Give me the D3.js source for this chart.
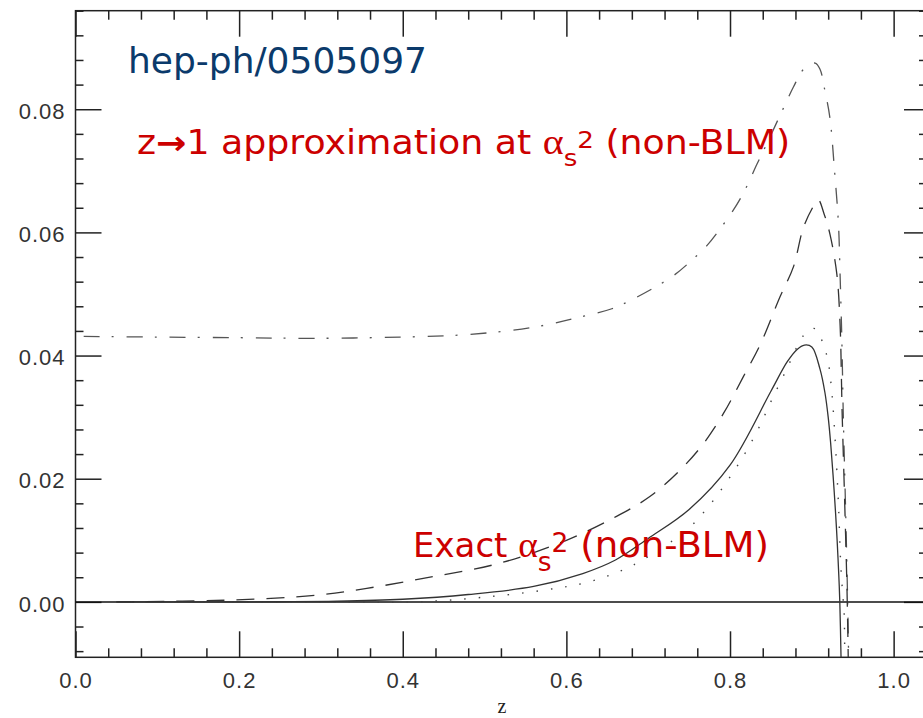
<!DOCTYPE html>
<html>
<head>
<meta charset="utf-8">
<script src="https://cdn.jsdelivr.net/npm/d3@7"></script>
<style>
  html, body { margin: 0; padding: 0; background: #fff; }
  svg { display: block; }
</style>
</head>
<body>
<div id="chart"></div>
<script>
// tick labels
const xMajor = [0.0, 0.2, 0.4, 0.6, 0.8, 1.0]
const yMajor = [0.00, 0.02, 0.04, 0.06, 0.08]

// exact alpha_s^2, solid
const exactZ = [0.05, 0.15, 0.25, 0.32, 0.40, 0.48, 0.56, 0.62, 0.66, 0.70, 0.75, 0.80, 0.85, 0.87, 0.882, 0.891, 0.900, 0.910, 0.916, 0.920, 0.923, 0.926, 0.929, 0.931, 0.933, 0.9342, 0.9357]
const exactV = [0, 0, 0.00002, 0.0001, 0.00043, 0.0012, 0.0025, 0.0046, 0.0068, 0.0103, 0.0150, 0.0222, 0.0342, 0.0390, 0.0410, 0.0417, 0.0414, 0.0378, 0.0340, 0.0300, 0.0258, 0.0205, 0.0145, 0.0098, 0.0042, 0.0, -0.009]

// dotted
const dotZ = [0.05, 0.30, 0.417, 0.4945, 0.572, 0.629, 0.682, 0.747, 0.772, 0.796, 0.816, 0.835, 0.851, 0.87, 0.885, 0.896, 0.905, 0.915, 0.920, 0.9245, 0.9285, 0.9325, 0.9355, 0.938, 0.9395, 0.9402]
const dotV = [0, 0, 0.0000, 0.0007, 0.0019, 0.0033, 0.0060, 0.0117, 0.0152, 0.0195, 0.0236, 0.0282, 0.0328, 0.0380, 0.0422, 0.0442, 0.0443, 0.0414, 0.0390, 0.0339, 0.0263, 0.0160, 0.0057, 0.0008, -0.0018, -0.009]

// dashed
const dashZ = [0.05, 0.19, 0.295, 0.356, 0.437, 0.519, 0.600, 0.660, 0.702, 0.739, 0.7675, 0.792, 0.816, 0.837, 0.861, 0.8775, 0.890, 0.904, 0.908, 0.915, 0.922, 0.9305, 0.9345, 0.937, 0.940, 0.943, 0.9445]
const dashV = [0, 0.0003, 0.0011, 0.0022, 0.0041, 0.0063, 0.0100, 0.0138, 0.0171, 0.0214, 0.0257, 0.0306, 0.0365, 0.0418, 0.0495, 0.0544, 0.0609, 0.0647, 0.0653, 0.0630, 0.0598, 0.0533, 0.0452, 0.031, 0.017, 0.002, -0.009]

// z->1 approximation, dash-dot
const approxZ = [0.01, 0.10, 0.20, 0.291, 0.397, 0.478, 0.560, 0.621, 0.6555, 0.682, 0.729, 0.751, 0.772, 0.788, 0.804, 0.818, 0.833, 0.845, 0.865, 0.8775, 0.890, 0.904, 0.910, 0.916, 0.922, 0.928, 0.9325, 0.9345, 0.9367, 0.9385, 0.941, 0.9435, 0.945]
const approxV = [0.0431, 0.0430, 0.0429, 0.0428, 0.0430, 0.0434, 0.0446, 0.0464, 0.0476, 0.0492, 0.0528, 0.0552, 0.0579, 0.0606, 0.0636, 0.0668, 0.0711, 0.0744, 0.0801, 0.0836, 0.0865, 0.0875, 0.0865, 0.0830, 0.0787, 0.0696, 0.0615, 0.0533, 0.0425, 0.030, 0.0165, 0.002, -0.009]

const W = 923
const H = 718
const mLeft = 75.5, mRight = 928, mTop = 10.7, mBottom = 657.3

let x = d3.scaleLinear().domain([0, 1.042]).range([mLeft, mRight])
let y = d3.scaleLinear().domain([-0.009, 0.096]).range([mBottom, mTop])

let svg = d3.select('#chart')
  .append('svg')
  .attr('width', W)
  .attr('height', H)

svg.append('rect').attr('width', W).attr('height', H).attr('fill', '#fff')

let xMinor = d3.range(0, 1.06, 0.04).filter(d => !xMajor.some(m => Math.abs(m - d) < 1e-6))
let yMinor = d3.range(-0.008, 0.0961, 0.004).filter(d => !yMajor.some(m => Math.abs(m - d) < 1e-6))

const tickFont = '"Liberation Sans", Arial, sans-serif'

function styleAxis (g) {
  g.select('.domain').remove()
  g.selectAll('line').attr('stroke', '#222').attr('stroke-width', 1.5)
  g.selectAll('text')
    .attr('fill', '#333')
    .style('font-family', tickFont)
    .style('font-size', '22px')
    .style('letter-spacing', '1px')
}

// bottom
svg.append('g').attr('transform', `translate(0,${mBottom})`)
  .call(d3.axisBottom(x).tickValues(xMajor).tickSize(-26).tickPadding(15).tickFormat(d3.format('.1f')))
  .call(styleAxis)
svg.append('g').attr('transform', `translate(0,${mBottom})`)
  .call(d3.axisBottom(x).tickValues(xMinor).tickSize(-9).tickFormat(''))
  .call(styleAxis)
// top
svg.append('g').attr('transform', `translate(0,${mTop})`)
  .call(d3.axisTop(x).tickValues(xMajor).tickSize(-26).tickFormat(''))
  .call(styleAxis)
svg.append('g').attr('transform', `translate(0,${mTop})`)
  .call(d3.axisTop(x).tickValues(xMinor).tickSize(-9).tickFormat(''))
  .call(styleAxis)
// left
svg.append('g').attr('transform', `translate(${mLeft},0)`)
  .call(d3.axisLeft(y).tickValues(yMajor).tickSize(-26).tickPadding(10).tickFormat(d3.format('.2f')))
  .call(styleAxis)
  .call(g => g.selectAll('text').attr('dy', '0.42em'))
svg.append('g').attr('transform', `translate(${mLeft},0)`)
  .call(d3.axisLeft(y).tickValues(yMinor).tickSize(-8).tickFormat(''))
  .call(styleAxis)
// right
svg.append('g').attr('transform', `translate(${mRight},0)`)
  .call(d3.axisRight(y).tickValues(yMajor).tickSize(-24).tickFormat(''))
  .call(styleAxis)
svg.append('g').attr('transform', `translate(${mRight},0)`)
  .call(d3.axisRight(y).tickValues(yMinor).tickSize(-9).tickFormat(''))
  .call(styleAxis)

// frame
svg.append('rect')
  .attr('x', mLeft).attr('y', mTop)
  .attr('width', mRight - mLeft).attr('height', mBottom - mTop)
  .attr('fill', 'none').attr('stroke', '#222').attr('stroke-width', 1.5)

// zero line
svg.append('line')
  .attr('x1', mLeft).attr('x2', mRight)
  .attr('y1', y(0)).attr('y2', y(0))
  .attr('stroke', '#111').attr('stroke-width', 1.5)

// curves
let line = d3.line()
  .x(d => x(d[0]))
  .y(d => y(d[1]))
  .curve(d3.curveCatmullRom.alpha(0.5))

let series = [
  { z: approxZ, v: approxV, color: '#555', width: 1.3, dash: '16,12,2,13' },
  { z: dashZ, v: dashV, color: '#333', width: 1.3, dash: '18,12' },
  { z: dotZ, v: dotV, color: '#444', width: 1.4, dash: '1.5,13' },
  { z: exactZ, v: exactV, color: '#333', width: 1.3, dash: null }
]

svg.append('g').selectAll('path')
  .data(series)
  .enter()
  .append('path')
  .attr('d', s => line(d3.zip(s.z, s.v)))
  .attr('fill', 'none')
  .attr('stroke', s => s.color)
  .attr('stroke-width', s => s.width)
  .attr('stroke-dasharray', s => s.dash)

// axis title
svg.append('text')
  .attr('x', 502).attr('y', 713)
  .attr('text-anchor', 'middle')
  .style('font-family', '"Liberation Serif", serif')
  .style('font-size', '20px')
  .attr('fill', '#222')
  .text('z')

// annotations
const annoFont = '"DejaVu Sans", Verdana, sans-serif'

svg.append('text')
  .attr('x', 128).attr('y', 73)
  .style('font-family', annoFont)
  .style('font-size', '36px')
  .attr('fill', '#0b3a6b')
  .text('hep-ph/0505097')

// text with alpha_s^2 inside, slightly stretched like the slide
function alphaLabel (o) {
  let t = svg.append('text')
    .attr('transform', `translate(${o.x},${o.y}) scale(${o.sx},1)`)
    .style('font-family', annoFont)
    .style('font-size', o.size + 'px')
    .attr('fill', '#cc0000')
  o.before.forEach(p => {
    t.append('tspan').style('font-weight', p.bold ? 'bold' : null).text(p.text)
  })
  t.append('tspan').style('font-family', '"Liberation Serif", serif')
    .style('font-size', (o.size * 1.1) + 'px').text('\u03B1')
  t.append('tspan').attr('dy', o.subDy).style('font-size', o.scriptSize + 'px').text('s')
  t.append('tspan').attr('dy', o.supDy - o.subDy).style('font-size', o.scriptSize + 'px').text('2')
  t.append('tspan').attr('dy', -o.supDy).style('font-size', o.afterSize + 'px').text(o.after)
  return t
}

alphaLabel({
  x: 137, y: 154, sx: 1.1, size: 33, scriptSize: 23.8, afterSize: 33,
  subDy: 12, supDy: -6,
  before: [{ text: 'z' }, { text: '\u2192', bold: true }, { text: '1 approximation at ' }],
  after: ' (non-BLM)'
})

alphaLabel({
  x: 413, y: 557, sx: 1.03, size: 33, scriptSize: 25.7, afterSize: 36,
  subDy: 14, supDy: -5,
  before: [{ text: 'Exact ' }],
  after: ' (non-BLM)'
})
</script>
</body>
</html>
